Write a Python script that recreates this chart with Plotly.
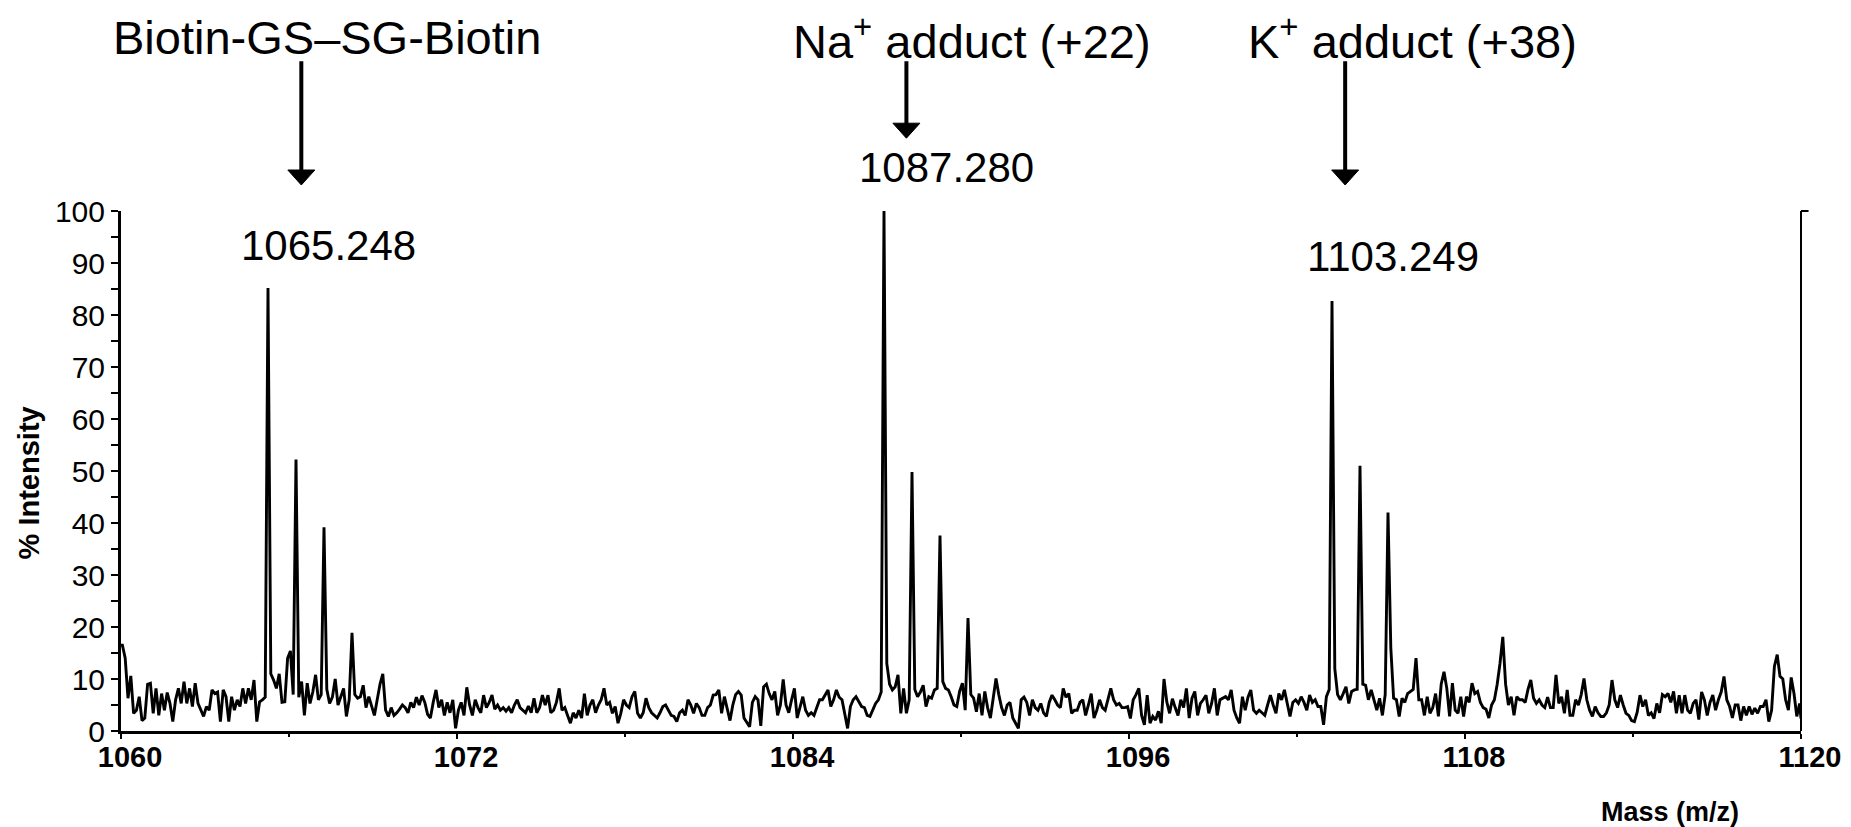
import numpy as np
import plotly.graph_objects as go

# ---------------- data (m/z sampled every 0.1, centred on .05) ----------------
mz_first = 1060.05
mz_step = 0.1
edge_left = (1060.0, 16.5)
edge_right = (1120.0, 2.4)

I_1060_1069 = [
    16.5, 14.0, 6.3, 10.6, 3.4, 4.0, 6.6, 2.0, 2.5, 9.0,
    9.2, 3.4, 8.2, 3.0, 7.2, 4.0, 7.4, 5.3, 1.8, 6.0,
    8.2, 5.3, 9.5, 5.3, 8.2, 4.7, 9.2, 5.3, 4.0, 2.8,
    4.7, 4.0, 7.9, 7.2, 7.5, 1.8, 7.9, 6.6, 1.8, 6.6,
    4.0, 6.0, 4.7, 8.2, 5.3, 8.2, 6.0, 9.8, 1.8, 5.6,
    6.0, 6.5, 85.2, 11.0, 9.8, 8.2, 11.0, 5.5, 5.6, 14.0,
    15.4, 7.0, 52.2, 6.5, 9.5, 3.0, 9.2, 5.3, 7.5, 10.8,
    6.0, 7.0, 39.2, 8.0, 5.3, 6.5, 10.0, 5.0, 6.6, 8.2,
    2.8, 6.0, 18.9, 7.0, 6.3, 6.6, 8.8, 4.5, 6.6, 5.0,
    3.0, 6.0, 9.0, 11.0, 4.0, 2.8, 4.5, 3.0, 3.5, 4.2,
]
I_1070_1079 = [
    5.0, 4.5, 3.5, 5.5, 4.5, 6.5, 5.0, 6.8, 5.5, 3.2,
    2.5, 5.5, 7.9, 4.5, 6.0, 3.0, 5.5, 3.5, 6.0, 0.5,
    4.0, 5.5, 3.0, 8.4, 5.0, 3.0, 6.0, 4.5, 3.5, 6.9,
    4.5, 5.5, 6.9, 4.2, 5.0, 4.0, 4.5, 3.8, 4.5, 3.5,
    5.0, 6.0, 4.5, 4.0, 3.5, 4.8, 3.5, 6.3, 3.5, 4.5,
    6.9, 5.0, 6.9, 3.5, 4.0, 5.5, 8.2, 4.0, 4.5, 3.0,
    1.5, 3.5, 2.5, 4.0, 2.5, 7.2, 3.0, 5.0, 6.0, 3.5,
    5.0, 6.0, 8.2, 5.0, 5.5, 3.4, 4.7, 1.5, 3.4, 6.0,
    5.0, 4.5, 6.6, 7.6, 3.4, 2.5, 3.5, 6.3, 4.5, 3.5,
    3.0, 2.5, 3.5, 4.7, 5.0, 4.0, 3.0, 2.8, 1.8, 3.5,
]
I_1080_1089 = [
    4.0, 3.0, 6.0, 5.0, 3.4, 5.3, 4.5, 3.0, 3.0, 4.5,
    5.0, 6.9, 7.0, 7.9, 3.4, 6.6, 4.0, 2.0, 5.0, 7.0,
    7.6, 6.9, 2.5, 1.5, 0.8, 5.5, 6.6, 6.0, 1.0, 8.5,
    9.0, 7.2, 6.0, 7.6, 3.0, 5.0, 9.9, 5.0, 3.5, 6.0,
    8.2, 2.5, 4.5, 6.6, 4.0, 3.0, 3.5, 3.0, 4.5, 6.0,
    6.0, 7.0, 7.9, 4.7, 6.0, 7.9, 6.5, 6.0, 3.0, 0.5,
    4.7, 6.0, 6.6, 5.5, 4.7, 4.5, 3.0, 2.8, 4.0, 5.3,
    6.0, 7.5, 100.0, 13.0, 9.0, 7.9, 8.5, 10.8, 3.4, 8.2,
    3.4, 6.0, 49.8, 8.0, 6.6, 7.5, 8.8, 4.7, 6.6, 6.3,
    7.9, 8.2, 37.6, 9.5, 8.2, 7.9, 6.6, 5.0, 4.7, 7.6,
]
I_1090_1099 = [
    9.2, 4.0, 21.7, 7.0, 6.3, 3.7, 7.2, 3.0, 7.6, 4.5,
    2.5, 6.5, 10.1, 7.0, 4.5, 3.0, 5.0, 5.5, 2.5, 1.5,
    0.5, 6.0, 6.5, 5.5, 3.0, 6.0, 4.5, 4.0, 5.3, 3.5,
    2.8, 5.5, 6.9, 6.0, 5.0, 4.5, 8.2, 6.5, 7.2, 3.4,
    4.0, 4.0, 5.5, 6.0, 3.0, 5.0, 7.2, 2.5, 4.0, 6.0,
    4.5, 4.0, 6.0, 8.2, 6.0, 5.0, 5.3, 4.5, 4.5, 4.7,
    2.4, 6.0, 7.0, 8.2, 3.0, 1.2, 6.9, 1.5, 2.8, 2.1,
    3.8, 1.5, 10.0, 5.6, 3.4, 6.2, 4.5, 3.0, 6.0, 4.5,
    8.2, 2.5, 6.3, 7.6, 3.0, 5.3, 6.0, 6.9, 3.4, 5.3,
    8.2, 3.0, 6.0, 6.3, 6.6, 6.0, 7.9, 4.0, 2.5, 1.5,
]
I_1100_1109 = [
    6.6, 4.0, 6.5, 7.9, 4.0, 3.4, 4.0, 3.5, 3.0, 5.0,
    6.9, 5.0, 3.4, 7.2, 6.0, 7.9, 5.5, 2.8, 5.5, 6.0,
    5.3, 6.6, 5.5, 4.0, 6.9, 5.5, 6.0, 4.7, 4.7, 1.2,
    6.6, 8.0, 82.7, 12.0, 7.0, 6.0, 7.2, 8.5, 5.3, 7.6,
    7.9, 8.0, 51.0, 9.0, 8.8, 6.0, 7.9, 6.0, 4.0, 6.3,
    3.0, 7.0, 42.0, 16.0, 6.3, 6.0, 2.8, 6.3, 5.5, 7.2,
    7.6, 8.0, 14.0, 6.0, 6.0, 3.0, 6.6, 3.4, 4.5, 7.2,
    2.8, 9.0, 11.4, 8.2, 2.8, 9.2, 4.0, 3.4, 6.6, 2.8,
    6.6, 5.5, 9.2, 7.2, 7.6, 5.5, 4.5, 4.2, 2.5, 5.0,
    6.0, 9.0, 13.0, 18.1, 9.0, 5.0, 6.6, 3.0, 6.6, 6.0,
]
I_1110_1119 = [
    6.0, 5.5, 8.0, 9.8, 6.3, 5.3, 6.0, 5.0, 4.5, 6.5,
    4.5, 4.5, 10.8, 5.3, 6.6, 3.4, 7.9, 3.0, 3.0, 6.0,
    5.0, 7.0, 10.1, 6.0, 4.0, 2.8, 4.7, 3.5, 2.8, 2.8,
    3.5, 5.0, 9.8, 6.0, 4.5, 6.9, 5.0, 3.4, 3.0, 2.0,
    1.8, 3.6, 6.9, 4.7, 6.0, 3.0, 3.5, 2.4, 5.3, 3.5,
    7.0, 6.6, 7.2, 5.5, 7.6, 3.4, 6.9, 3.4, 6.9, 4.0,
    3.4, 5.3, 6.0, 2.2, 7.5, 6.0, 3.0, 5.5, 6.9, 4.0,
    6.0, 7.5, 10.5, 6.0, 4.7, 2.5, 5.0, 5.0, 2.0, 4.7,
    3.0, 4.7, 3.2, 4.4, 3.4, 4.7, 4.7, 6.0, 1.8, 4.0,
    12.4, 14.7, 10.5, 10.0, 6.0, 4.0, 10.3, 7.2, 2.8, 5.3,
]

x_range = [1060, 1120]
y_range = [0, 100]
x_ticks = [1060, 1072, 1084, 1096, 1108, 1120]
x_minor = [1066, 1078, 1090, 1102, 1114]
y_ticks = [0, 10, 20, 30, 40, 50, 60, 70, 80, 90, 100]
y_minor = [5, 15, 25, 35, 45, 55, 65, 75, 85, 95]

# text placements in data units (m/z, % intensity)
peak_labels = [("1065.248", 1067.41, 93.3), ("1087.280", 1089.48, 108.3), ("1103.249", 1105.44, 91.3)]
top_labels = [("Biotin-GS\u2013SG-Biotin", 1067.37), ("Na<sup>+</sup> adduct (+22)", 1090.38),
              ("K<sup>+</sup> adduct (+38)", 1106.12)]
top_label_y = 133.3
arrows = [(1066.44, 105.0), (1088.05, 114.0), (1103.72, 105.0)]
arrow_tail_y = 128.8

# ---------------- build ----------------
intens = I_1060_1069 + I_1070_1079 + I_1080_1089 + I_1090_1099 + I_1100_1109 + I_1110_1119
mz = np.round(mz_first + mz_step * np.arange(len(intens)), 2)
xs = [edge_left[0]] + list(mz) + [edge_right[0]]
ys = [edge_left[1]] + intens + [edge_right[1]]

# page has an 8px body margin: shrink figure so the plot sits where the reference has it
W, H = 1843, 819
M_L, M_T, M_R, M_B = 113, 203, 50, 96
plot_w = W - M_L - M_R
plot_h = H - M_T - M_B


def px(x):
    return (x - x_range[0]) / (x_range[1] - x_range[0])


def py(y):
    return (y - y_range[0]) / (y_range[1] - y_range[0])


FONT = "Liberation Sans, Arial, Helvetica, sans-serif"

fig = go.Figure()
fig.add_trace(go.Scatter(x=xs, y=ys, mode="lines", line=dict(color="black", width=2.9),
                         hoverinfo="skip", showlegend=False))

annotations = []
for txt, x, y in peak_labels:
    annotations.append(dict(x=px(x), y=py(y), xref="paper", yref="paper", text=txt, showarrow=False,
                            font=dict(family=FONT, size=42, color="black"),
                            xanchor="center", yanchor="middle"))
for txt, x in top_labels:
    annotations.append(dict(x=px(x), y=py(top_label_y), xref="paper", yref="paper", text=txt,
                            showarrow=False, font=dict(family=FONT, size=47, color="black"),
                            xanchor="center", yanchor="middle"))
annotations.append(dict(x=-0.0545, y=0.477, xref="paper", yref="paper", text="<b>% Intensity</b>",
                        textangle=-90, showarrow=False, xanchor="center", yanchor="middle",
                        font=dict(family=FONT, size=29, color="black")))
annotations.append(dict(x=0.922, y=-0.156, xref="paper", yref="paper", text="<b>Mass (m/z)</b>",
                        showarrow=False, xanchor="center", yanchor="middle",
                        font=dict(family=FONT, size=27, color="black")))

shapes = [
    dict(type="line", xref="paper", yref="paper", x0=1.0, x1=1.0, y0=0, y1=1,
         line=dict(color="black", width=2)),
    dict(type="line", xref="paper", yref="paper", x0=1.0, x1=1.0045, y0=1, y1=1,
         line=dict(color="black", width=2)),
]
# arrows: shaft + filled triangular head (head ~27px wide, 15px long)
head_half_w = 13.5 / plot_w
head_len = 15.0 / plot_h
for x, y in arrows:
    xp, yp = px(x), py(y)
    base = yp + head_len
    shapes.append(dict(type="line", xref="paper", yref="paper", x0=xp, x1=xp,
                       y0=base - 0.002, y1=py(arrow_tail_y), line=dict(color="black", width=4)))
    shapes.append(dict(type="path", xref="paper", yref="paper",
                       path=f"M {xp - head_half_w},{base} L {xp + head_half_w},{base} L {xp},{yp} Z",
                       fillcolor="black", line=dict(color="black", width=1)))

fig.update_layout(
    width=W, height=H, autosize=False,
    margin=dict(l=M_L, r=M_R, t=M_T, b=M_B, autoexpand=False),
    paper_bgcolor="white", plot_bgcolor="white",
    showlegend=False,
    annotations=annotations,
    shapes=shapes,
    font=dict(family=FONT, color="black"),
)
fig.update_xaxes(
    range=x_range, tickvals=x_ticks, ticktext=[str(v) for v in x_ticks],
    automargin=False,
    showgrid=False, zeroline=False, showline=True, linecolor="black", linewidth=3,
    ticks="outside", ticklen=5, tickwidth=2, tickcolor="black",
    tickfont=dict(family=FONT, size=29, color="black", weight="bold"),
    ticklabelshift=9, ticklabelstandoff=-7,
    minor=dict(tickvals=x_minor, ticks="outside", ticklen=3, tickwidth=2, tickcolor="black"),
)
fig.update_yaxes(
    range=y_range, tickvals=y_ticks, ticktext=[str(v) for v in y_ticks],
    automargin=False,
    showgrid=False, zeroline=False, showline=True, linecolor="black", linewidth=3,
    ticks="outside", ticklen=7, tickwidth=2, tickcolor="black",
    tickfont=dict(family=FONT, size=30, color="black"),
    minor=dict(tickvals=y_minor, ticks="outside", ticklen=7, tickwidth=2, tickcolor="black"),
)

fig.write_html("out.html")
